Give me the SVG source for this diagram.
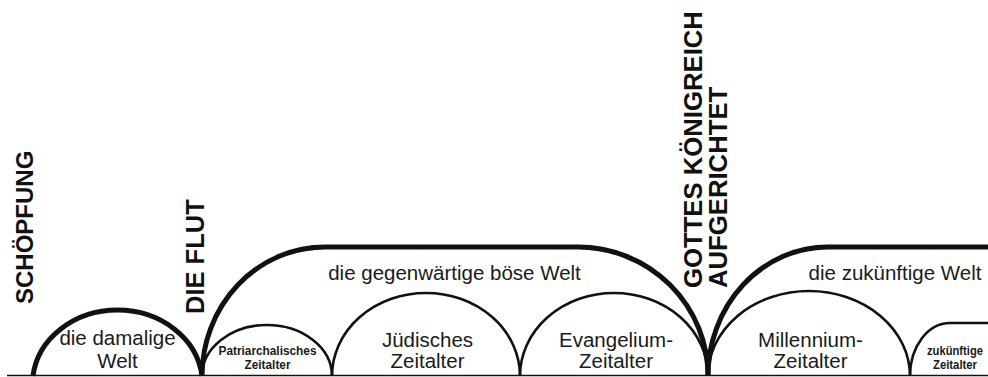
<svg xmlns="http://www.w3.org/2000/svg" width="988" height="377" viewBox="0 0 988 377">
<style>
.thick{fill:none;stroke:#111;stroke-width:5;stroke-linecap:butt;stroke-linejoin:round}
.thin{fill:none;stroke:#111;stroke-width:2.6;stroke-linecap:butt}
.base{fill:none;stroke:#111;stroke-width:1.6}
.lbl{font-family:"Liberation Sans",Arial,sans-serif;font-size:20.5px;fill:#1a1a1a;text-anchor:middle}
.sm{font-family:"Liberation Sans",Arial,sans-serif;font-size:13px;font-weight:bold;fill:#1a1a1a;text-anchor:middle}
.ev{font-family:"Liberation Sans",Arial,sans-serif;font-size:25.7px;font-weight:bold;fill:#111}
</style>
<rect width="988" height="377" fill="#fff"/>
<g id="baseline"><line class="base" x1="7" y1="375.5" x2="988" y2="375.5"/></g>

<g id="damalige-welt">
<path class="thick" d="M33,376 A85,74 0 0 1 202,376"/>
<text class="lbl" x="117.5" y="345">die damalige</text>
<text class="lbl" x="117.5" y="368">Welt</text>
</g>

<g id="gegenwaertige-welt">
<path class="thick" d="M202,376 A123,129 0 0 1 325,247 L578,247 A130,129 0 0 1 708,376"/>
<text class="lbl" x="454.5" y="280">die gegenwärtige böse Welt</text>
</g>

<g id="patriarchalisches-zeitalter">
<path class="thin" d="M202,376 A65,51 0 0 1 332,376"/>
<text class="sm" x="267.5" y="354.5" textLength="98" lengthAdjust="spacingAndGlyphs">Patriarchalisches</text>
<text class="sm" x="267.5" y="368.5" textLength="46" lengthAdjust="spacingAndGlyphs">Zeitalter</text>
</g>

<g id="juedisches-zeitalter">
<path class="thin" d="M332,376 A94,83 0 0 1 520,376"/>
<text class="lbl" x="427.5" y="347">Jüdisches</text>
<text class="lbl" x="427.5" y="368">Zeitalter</text>
</g>

<g id="evangelium-zeitalter">
<path class="thin" d="M520,376 A94,83 0 0 1 708,376"/>
<text class="lbl" x="616" y="347">Evangelium-</text>
<text class="lbl" x="616" y="368">Zeitalter</text>
</g>

<g id="zukuenftige-welt">
<path class="thick" d="M708,376 A120,129 0 0 1 828,247 L990,247"/>
<text class="lbl" x="895" y="280">die zukünftige Welt</text>
</g>

<g id="millennium-zeitalter">
<path class="thin" d="M708,376 A101,85 0 0 1 910,376"/>
<text class="lbl" x="810.5" y="347">Millennium-</text>
<text class="lbl" x="810.5" y="368">Zeitalter</text>
</g>

<g id="zukuenftige-zeitalter">
<path class="thin" d="M910,376 A40,53 0 0 1 950,323 L990,323"/>
<text class="sm" x="955" y="355" textLength="56" lengthAdjust="spacingAndGlyphs">zukünftige</text>
<text class="sm" x="955" y="368.5" textLength="44" lengthAdjust="spacingAndGlyphs">Zeitalter</text>
</g>

<g id="schoepfung"><text class="ev" style="font-size:24px" transform="translate(33,304) rotate(-90)">SCHÖPFUNG</text></g>
<g id="die-flut"><text class="ev" style="font-size:25.5px" transform="translate(204,314) rotate(-90)">DIE FLUT</text></g>
<g id="gottes-koenigreich">
<text class="ev" transform="translate(702,288) rotate(-90)">GOTTES KÖNIGREICH</text>
<text class="ev" transform="translate(727,288) rotate(-90)">AUFGERICHTET</text>
</g>
<g id="connectors"/>
</svg>
